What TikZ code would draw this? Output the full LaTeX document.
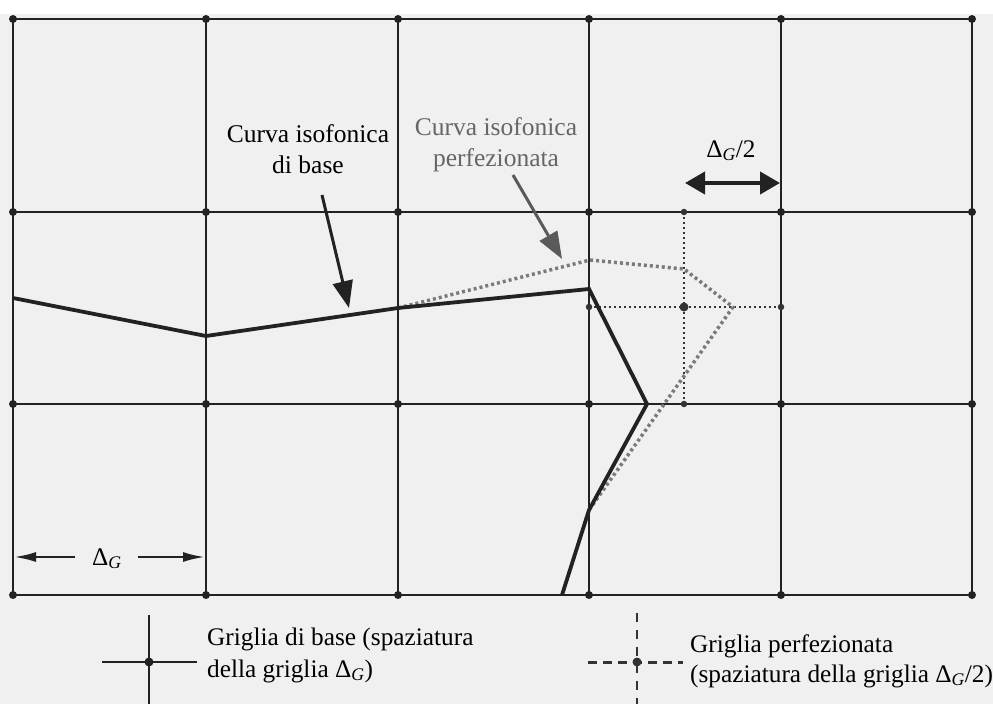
\documentclass[tikz,border=0pt]{standalone}
\usepackage{fontspec}
\setmainfont{Liberation Serif}
\usetikzlibrary{arrows.meta}
\definecolor{bgc}{HTML}{F0F0F0}
\definecolor{gridc}{HTML}{222222}
\definecolor{curvegray}{HTML}{7A7A7A}
\definecolor{arrowgray}{HTML}{5A5A5A}
\definecolor{textgray}{HTML}{666666}
\definecolor{halfc}{HTML}{333333}
\newcommand{\DG}{Δ\textsubscript{\textit{G}}}
\begin{document}
\begin{tikzpicture}[x=1pt,y=-1pt,
  gridline/.style={draw=gridc,line width=2.5pt},
  gdot/.style={circle,fill=gridc,inner sep=0pt,minimum size=8pt},
  hdot/.style={circle,fill=halfc,inner sep=0pt,minimum size=6.5pt},
  halfline/.style={draw=halfc,line width=2pt,dash pattern=on 2pt off 3pt},
  basecurve/.style={draw=gridc,line width=3.8pt,line join=miter},
  finecurve/.style={draw=curvegray,line width=3.5pt,dash pattern=on 3pt off 3pt},
  lbl/.style={font=\fontsize{25.5}{31}\selectfont,inner sep=0pt},
  leg/.style={font=\fontsize{25.3}{31}\selectfont,inner sep=0pt},
  bigarrow/.style={draw=gridc,line width=3pt,-{Triangle[length=27pt,width=20pt]}},
  grayarrow/.style={draw=arrowgray,line width=3pt,-{Triangle[length=27pt,width=20pt]}},
  dblarrow/.style={draw=gridc,line width=4pt,{Triangle[length=20pt,width=22pt]}-{Triangle[length=20pt,width=22pt]}},
  thinarrow/.style={draw=gridc,line width=2.5pt,-{Latex[length=22pt,width=10pt]}},
  legdash/.style={draw=halfc,line width=3pt,dash pattern=on 9pt off 6pt},
  legdashv/.style={draw=halfc,line width=2pt,dash pattern=on 9pt off 8pt}
]
\useasboundingbox (0,0) rectangle (993,704);
\fill[bgc] (0,14) rectangle (993,704);

% main grid
\foreach \x in {13,206,398,589,781,972} \draw[gridline] (\x,19) -- (\x,595);
\foreach \y in {19,212,404,595} \draw[gridline] (13,\y) -- (972,\y);

% refined grid
\draw[halfline] (684,212) -- (684,404);
\draw[halfline] (589,307) -- (781,307);

% curves
\draw[finecurve] (398,308) -- (590,260) -- (684,269) -- (733,307) -- (589,510);
\draw[basecurve] (13,298) -- (206,336) -- (398,308) -- (589,289) -- (647,404) -- (589,510) -- (562,595);

% grid dots
\foreach \x in {13,206,398,589,781,972}
  \foreach \y in {19,212,404,595}
    \node[gdot] at (\x,\y) {};
\foreach \p in {(684,212),(684,404),(589,307),(781,307)} \node[hdot] at \p {};
\node[hdot,minimum size=9pt] at (684,307) {};

% labels
\node[lbl,anchor=base] (t1a) at (308,142) {Curva isofonica};
\node[lbl,anchor=base] (t1b) at (308,173) {di base};
\node[lbl,anchor=base,text=textgray] (t2a) at (496,135) {Curva isofonica};
\node[lbl,anchor=base,text=textgray] (t2b) at (496,166) {perfezionata};
\node[leg,anchor=base] (t3) at (731,157) {\DG/2};
\node[leg,anchor=base] (t4) at (107,565) {\DG};

% arrows
\coordinate (a1s) at (322,195);
\coordinate (a1e) at (349,308);
\draw[bigarrow] (a1s) -- (a1e);
\coordinate (a2s) at (513,175);
\coordinate (a2e) at (562,259);
\draw[grayarrow] (a2s) -- (a2e);
\coordinate (d1) at (685,183);
\coordinate (d2) at (780,183);
\draw[dblarrow] (d1) -- (d2);
\coordinate (l1) at (75,557);
\coordinate (l2) at (14,557);
\coordinate (r1) at (138,557);
\coordinate (r2) at (205,557);
\draw[thinarrow] (l1) -- (l2);
\draw[thinarrow] (r1) -- (r2);

% legend
\coordinate (c1) at (149,662);
\draw[draw=gridc,line width=2.5pt] (102,662) -- (197,662);
\draw[draw=gridc,line width=2.5pt] (149,615) -- (149,704);
\node[gdot,minimum size=9pt] (c1dot) at (c1) {};
\node[leg,anchor=base west] (g1a) at (207,645) {Griglia di base (spaziatura};
\node[leg,anchor=base west] (g1b) at (207,677) {della griglia \DG)};

\coordinate (c2) at (637,662);
\draw[legdash] (588,662) -- (683,662);
\draw[legdashv] (637,613) -- (637,704);
\node[hdot,minimum size=9pt] (c2dot) at (c2) {};
\node[leg,anchor=base west] (g2a) at (690,652) {Griglia perfezionata};
\node[leg,anchor=base west] (g2b) at (690,682) {(spaziatura della griglia \DG/2)};
\end{tikzpicture}
\end{document}
